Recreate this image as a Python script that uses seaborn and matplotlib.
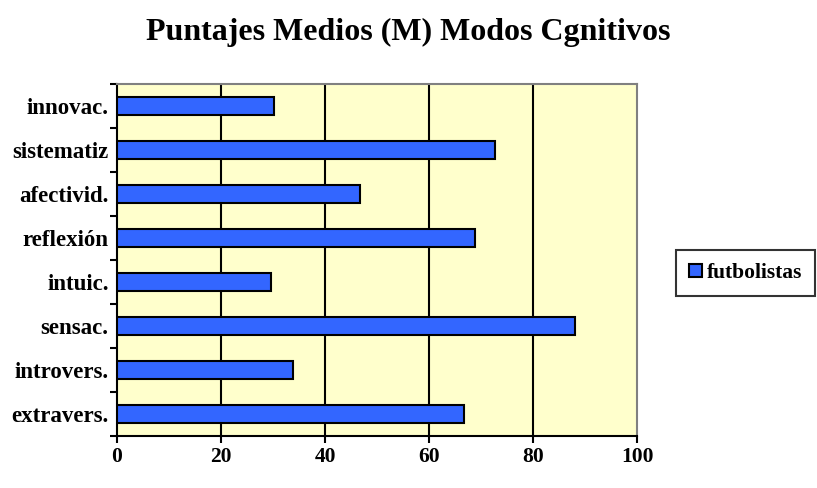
import pandas as pd
import seaborn as sns
import matplotlib.pyplot as plt
from matplotlib.patches import Patch

# Data
categories = ['innovac.', 'sistematiz', 'afectivid.', 'reflexión',
              'intuic.', 'sensac.', 'introvers.', 'extravers.']
scores = [30.2, 72.6, 46.8, 68.9, 29.7, 88.1, 33.9, 66.8]
series_name = 'futbolistas'
x_ticks = [0, 20, 40, 60, 80, 100]

df = pd.DataFrame({'Modo': categories, 'Puntaje': scores})

sns.set_style('white')
plt.rcParams['font.family'] = ['Liberation Serif', 'DejaVu Serif']
plt.rcParams['font.weight'] = 'bold'
plt.rcParams['text.color'] = 'black'
plt.rcParams['xtick.color'] = 'black'
plt.rcParams['ytick.color'] = 'black'
plt.rcParams['xtick.labelcolor'] = 'black'
plt.rcParams['ytick.labelcolor'] = 'black'

fig = plt.figure(figsize=(8.17, 4.88), dpi=100)
ax = fig.add_axes([0.1432, 0.1066, 0.6365, 0.7213])
ax.set_facecolor('#FFFFCC')

sns.barplot(data=df, x='Puntaje', y='Modo', orient='h', color='#3366FF',
            saturation=1, width=0.4, edgecolor='black', linewidth=1.5,
            ax=ax, zorder=3)

ax.set_xlim(0, 100)
ax.set_ylim(7.5, -0.5)
ax.set_xticks(x_ticks)
ax.set_xticklabels([str(t) for t in x_ticks], fontsize=15.5, fontweight='bold', color='black')
ax.set_yticks(range(len(categories)))
ax.set_yticklabels(categories, fontsize=16.5, fontweight='bold', color='black')
ax.set_yticks([i + 0.5 for i in range(-1, len(categories))], minor=True)
ax.tick_params(axis='y', which='major', length=0, pad=6)
ax.tick_params(axis='y', which='minor', length=5, width=1.5, color='black', direction='out', left=True)
ax.tick_params(axis='x', which='major', length=5, width=1.5, color='black', direction='out', bottom=True, pad=3)
ax.set_xlabel('')
ax.set_ylabel('')

for v in x_ticks[1:-1]:
    ax.axvline(v, color='black', linewidth=1.5, zorder=1)

for side in ['left', 'bottom']:
    ax.spines[side].set_color('black')
    ax.spines[side].set_linewidth(1.5)
for side in ['top', 'right']:
    ax.spines[side].set_color('#808080')
    ax.spines[side].set_linewidth(1.5)

fig.text(0.5, 0.933, 'Puntajes Medios (M) Modos Cgnitivos', ha='center', va='center',
         fontsize=23, fontweight='bold', color='black')

handle = Patch(facecolor='#3366FF', edgecolor='black', linewidth=1.5)
leg = fig.legend([handle], [series_name], loc='center left',
                 bbox_to_anchor=(0.8274, 0.4406), borderaxespad=0, frameon=True,
                 fancybox=False, edgecolor='black', handlelength=0.6, handleheight=0.6,
                 handletextpad=0.25, borderpad=0.6,
                 prop={'weight': 'bold', 'size': 15.5})
leg.get_frame().set_linewidth(1.5)
for t in leg.get_texts():
    t.set_color('black')

fig.savefig('out.png', dpi=100)
